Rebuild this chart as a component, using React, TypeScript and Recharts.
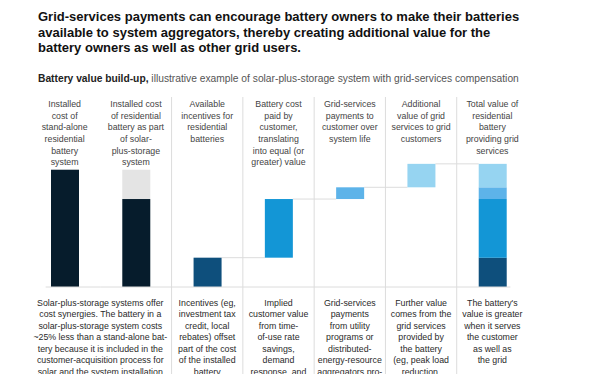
import { Bar, BarChart, Cell, XAxis, YAxis } from "recharts";

const titleLines = [
  "Grid-services payments can encourage battery owners to make their batteries",
  "available to system aggregators, thereby creating additional value for the",
  "battery owners as well as other grid users.",
];

const categories = [
  "standAlone",
  "solarPlusStorage",
  "incentives",
  "customerPaid",
  "gridPayments",
  "gridValue",
  "total",
];

const headerLines = [
  ["Installed", "cost of", "stand-alone", "residential", "battery", "system"],
  ["Installed cost", "of residential", "battery as part", "of solar-", "plus-storage", "system"],
  ["Available", "incentives for", "residential", "batteries"],
  ["Battery cost", "paid by", "customer,", "translating", "into equal (or", "greater) value"],
  ["Grid-services", "payments to", "customer over", "system life"],
  ["Additional", "value of grid", "services to grid", "customers"],
  ["Total value of", "residential", "battery", "providing grid", "services"],
];

const descriptionLines = [
  [
    "Solar-plus-storage systems offer",
    "cost synergies. The battery in a",
    "solar-plus-storage system costs",
    "~25% less than a stand-alone bat-",
    "tery because it is included in the",
    "customer-acquisition process for",
    "solar and the system installation",
  ],
  [],
  ["Incentives (eg,", "investment tax", "credit, local", "rebates) offset", "part of the cost", "of the installed", "battery"],
  ["Implied", "customer value", "from time-", "of-use rate", "savings,", "demand", "response, and"],
  ["Grid-services", "payments", "from utility", "programs or", "distributed-", "energy-resource", "aggregators pro-"],
  ["Further value", "comes from the", "grid services", "provided by", "the battery", "(eg, peak load", "reduction,"],
  ["The battery's", "value is greater", "when it serves", "the customer", "as well as", "the grid"],
];

// how many columns each description spans (first text covers both cost bars)
const descriptionSpan = [2, 0, 1, 1, 1, 1, 1];

// floating waterfall: invisible base + up to four visible segments
const baseValues = [0, 0, 0, 25, 75, 85, 0];
const firstSegment = [100, 75, 25, 50, 10, 20, 25];
const secondSegment = [0, 25, 0, 0, 0, 0, 50];
const thirdSegment = [0, 0, 0, 0, 0, 0, 10];
const fourthSegment = [0, 0, 0, 0, 0, 0, 20];
const hasConnector = [false, false, true, true, true, true, false];

const NAVY = "#061c2c";
const GREY = "#e4e4e4";
const DEEP = "#0e4f7c";
const MID = "#1396d6";
const LIGHT = "#5db3e9";
const PALE = "#96d4f1";
const RULE = "#dcdcdc";

const firstColors = [NAVY, NAVY, DEEP, MID, LIGHT, PALE, DEEP];
const secondColors = [GREY, GREY, GREY, GREY, GREY, GREY, MID];

const chartData = categories.map((name, i) => ({
  name,
  base: baseValues[i],
  a: firstSegment[i],
  b: secondSegment[i],
  c: thirdSegment[i],
  d: fourthSegment[i],
}));

const WIDTH = 606;
const HEIGHT = 374;
const MARGIN = { top: 87, right: 78, bottom: 0, left: 29 };
const BAR_SIZE = 28;
const BAND = (WIDTH - MARGIN.left - MARGIN.right) / categories.length;
const FONT = "'Liberation Sans', Arial, sans-serif";

const HeaderTick = (props: any) => {
  const { x, y, index } = props;
  const lines = headerLines[index] || [];
  return (
    <g>
      {index >= 2 && (
        <line x1={x - BAND / 2} x2={x - BAND / 2} y1={y} y2={HEIGHT + 10} stroke={RULE} strokeWidth={1} />
      )}
      <text textAnchor="middle" fontSize={8.8} fill="#444" fontFamily={FONT}>
        {lines.map((line, i) => (
          <tspan key={i} x={x} y={y + 10 + i * 11.67}>
            {line}
          </tspan>
        ))}
      </text>
    </g>
  );
};

const DescriptionTick = (props: any) => {
  const { x, y, index } = props;
  const span = descriptionSpan[index];
  const last = index === categories.length - 1;
  // baseline rule, trimmed a little inside the outer bands
  const left = index === 0 ? x - 19 : x - BAND / 2;
  const right = last ? x + 18 : x + BAND / 2;
  const cx = x + ((span - 1) * BAND) / 2;
  return (
    <g>
      <line x1={left} x2={right} y1={y} y2={y} stroke={RULE} strokeWidth={1} />
      {span > 0 && (
        <text textAnchor="middle" fontSize={8.8} fill="#2a2a2a" fontFamily={FONT}>
          {descriptionLines[index].map((line, i) => (
            <tspan key={i} x={cx} y={y + 18.5 + i * 11.55}>
              {line}
            </tspan>
          ))}
        </text>
      )}
    </g>
  );
};

const FirstSegmentShape = (props: any) => {
  const { x, y, width, height, index } = props;
  return (
    <g>
      {hasConnector[index] && (
        <line x1={x + width} x2={x + BAND} y1={y} y2={y} stroke={RULE} strokeWidth={1} />
      )}
      <rect x={x} y={y} width={width} height={height} fill={firstColors[index]} />
    </g>
  );
};

export default function App() {
  return (
    <div style={{ position: "absolute", left: 0, top: 0, width: WIDTH, height: HEIGHT, background: "#fff", fontFamily: FONT, overflow: "hidden" }}>
      <div style={{ position: "absolute", left: 38, top: 9, fontSize: 13, lineHeight: "15.7px", fontWeight: 700, color: "#111", whiteSpace: "nowrap" }}>
        {titleLines.map((line) => (
          <div key={line}>{line}</div>
        ))}
      </div>
      <div style={{ position: "absolute", left: 38, top: 73, fontSize: 10.25, lineHeight: "12px", color: "#555", whiteSpace: "nowrap" }}>
        <span style={{ fontWeight: 700, color: "#222" }}>Battery value build-up,</span> illustrative example of
        solar-plus-storage system with grid-services compensation
      </div>
      <div style={{ position: "absolute", left: 0, top: 0 }}>
        <BarChart width={WIDTH} height={HEIGHT} data={chartData} margin={MARGIN} barSize={BAR_SIZE} barCategoryGap={0}>
          <XAxis
            xAxisId="top"
            orientation="top"
            dataKey="name"
            height={10}
            tickSize={0}
            tickMargin={0}
            axisLine={false}
            tickLine={false}
            interval={0}
            tick={<HeaderTick />}
          />
          <XAxis
            dataKey="name"
            height={87}
            tickSize={0}
            tickMargin={0}
            axisLine={false}
            tickLine={false}
            interval={0}
            tick={<DescriptionTick />}
          />
          <YAxis hide domain={[0, 162]} allowDataOverflow />
          <Bar dataKey="base" stackId="v" fill="transparent" isAnimationActive={false} />
          <Bar dataKey="a" stackId="v" shape={<FirstSegmentShape />} isAnimationActive={false} />
          <Bar dataKey="b" stackId="v" isAnimationActive={false}>
            {categories.map((c, i) => (
              <Cell key={c} fill={secondColors[i]} />
            ))}
          </Bar>
          <Bar dataKey="c" stackId="v" fill={LIGHT} isAnimationActive={false} />
          <Bar dataKey="d" stackId="v" fill={PALE} isAnimationActive={false} />
        </BarChart>
      </div>
    </div>
  );
}
